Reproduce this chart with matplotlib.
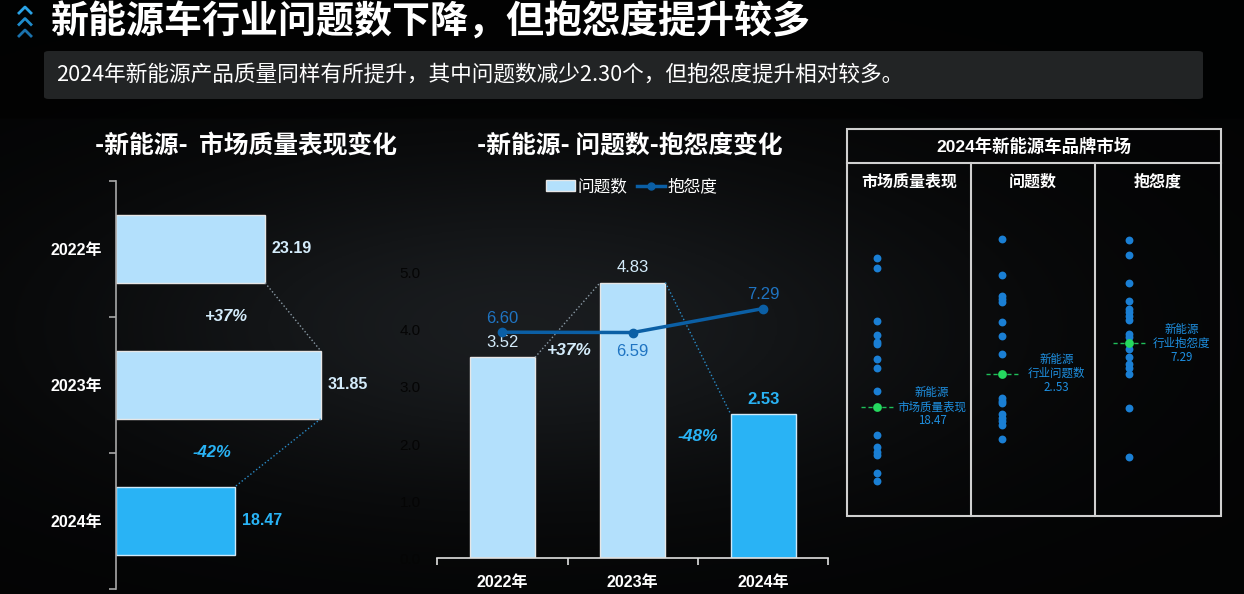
import numpy as np
import matplotlib
matplotlib.use("Agg")
import matplotlib.pyplot as plt
from matplotlib.lines import Line2D
from matplotlib.patches import Patch, Rectangle, FancyBboxPatch

plt.rcParams['font.family'] = ['Liberation Sans', 'Noto Sans CJK SC', 'DejaVu Sans']
CJK = ['Noto Sans CJK SC', 'DejaVu Sans']

# ---- data ----
years = ['2022年', '2023年', '2024年']
quality = [23.19, 31.85, 18.47]          # 市场质量表现
problems = [3.52, 4.83, 2.53]            # 问题数
complaint = [6.60, 6.59, 7.29]           # 抱怨度
quality_pct = ['+37%', '-42%']
problem_pct = ['+37%', '-48%']

# 2024 brand market
brand_quality = [33.31, 32.37, 27.04, 25.64, 24.97, 24.71, 23.21, 22.37, 20.01,
                 15.64, 14.44, 13.97, 13.64, 11.87, 11.08]
brand_problems = [5.23, 4.51, 4.08, 4.02, 3.96, 3.56, 3.29, 2.92,
                  2.04, 1.99, 1.94, 1.72, 1.64, 1.58, 1.51, 1.23]
brand_complaint = [12.44, 11.71, 10.29, 9.42, 9.01, 8.84, 8.67, 8.46, 7.74, 7.61,
                   7.00, 6.62, 6.24, 6.07, 5.74, 4.07, 1.62]
industry = [18.47, 2.53, 7.29]
industry_lbl = ['新能源\n市场质量表现\n18.47', '新能源\n行业问题数\n2..53', '新能源\n行业抱怨度\n7.29']
col_titles = ['市场质量表现', '问题数', '抱怨度']

W, H = 1244, 594
LIGHT = '#b3e0fc'
BRIGHT = '#29b3f5'
WHITE_BLUE = '#d4ecfb'

def fx(px):
    return px / W

def fy(py):
    return 1 - py / H

def axbox(x0, y0, x1, y1):
    return [fx(x0), fy(y1), fx(x1) - fx(x0), fy(y0) - fy(y1)]

fig = plt.figure(figsize=(W / 100, H / 100), dpi=100, facecolor='#030405')

# dark background glow
bg = fig.add_axes([0, 0, 1, 1], zorder=-10)
gx, gy = np.meshgrid(np.linspace(0, 1, 400), np.linspace(0, 1, 200))
glow = 0.015 + 0.09 * np.exp(-((gx - 0.42) ** 2 / 0.12 + (gy - 0.55) ** 2 / 0.08))
glow[gy < 0.2] *= 0.5
img = np.dstack([glow * 0.95, glow * 1.05, glow * 1.15])
bg.imshow(np.clip(img, 0, 1), aspect='auto', extent=[0, 1, 0, 1], origin='upper')
bg.axis('off')

# header
for i, c in enumerate(['#2aa3e6', '#1f8ccc', '#1a72ad']):
    yc = 10 + i * 11.5
    fig.add_artist(Line2D([fx(19), fx(25), fx(31)], [fy(yc + 3), fy(yc - 3), fy(yc + 3)],
                          color=c, lw=2, transform=fig.transFigure))
fig.text(fx(50), fy(22), '新能源车行业问题数下降，但抱怨度提升较多', family=CJK,
         fontsize=27.4, weight='heavy', color='white', va='center', ha='left')
fig.add_artist(FancyBboxPatch((fx(44), fy(99)), fx(1203) - fx(44), fy(51) - fy(99),
                              boxstyle='round,pad=0,rounding_size=0.004',
                              transform=fig.transFigure, fc='#262829', ec='none', alpha=0.9))
fig.text(fx(56), fy(75), '2024年新能源产品质量同样有所提升，其中问题数减少2.30个，但抱怨度提升相对较多。',
         family=CJK, fontsize=15.6, color='white', va='center', ha='left')

# ---- left: horizontal bars ----
fig.text(fx(246), fy(146), '-新能源-  市场质量表现变化', family=CJK, fontsize=17.8,
         weight='heavy', color='white', ha='center', va='center')
ax1 = fig.add_axes(axbox(116, 180.7, 420, 589))
ax1.set_facecolor('none')
y = np.arange(len(years))
cols = [LIGHT, LIGHT, BRIGHT]
ax1.barh(y, quality, height=0.5, color=cols, edgecolor=['#e6e6e6', '#e6e6e6', '#cfe9f8'], lw=1)
ax1.set_xlim(0, 47.3)
ax1.set_ylim(2.5, -0.5)
for s in ['top', 'right', 'bottom']:
    ax1.spines[s].set_visible(False)
ax1.spines['left'].set_color('#a8a8a8')
ax1.spines['left'].set_linewidth(1.2)
ax1.set_xticks([])
ax1.set_yticks(y)
ax1.set_yticklabels(years, color='white', fontsize=11.5, weight='bold')
ax1.tick_params(axis='y', which='major', length=0, pad=10)
ax1.set_yticks([-0.5, 0.5, 1.5, 2.5], minor=True)
ax1.tick_params(axis='y', which='minor', length=5, color='#a8a8a8', width=1.2)
for i, v in enumerate(quality):
    c = BRIGHT if i == 2 else WHITE_BLUE
    ax1.annotate(f'{v:.2f}', (v, i), xytext=(5, 0), textcoords='offset points',
                 va='center', ha='left', color=c, fontsize=11.5, weight='bold')
ax1.plot([quality[0], quality[1]], [0.25, 0.75], ls=':', color='#8a9aa5', lw=1)
ax1.plot([quality[1], quality[2]], [1.25, 1.75], ls=':', color='#2a8cc8', lw=1)
ax1.text(17.2, 0.5, quality_pct[0], color=WHITE_BLUE, fontsize=12, weight='bold',
         style='italic', ha='center', va='center')
ax1.text(14.9, 1.5, quality_pct[1], color=BRIGHT, fontsize=12, weight='bold',
         style='italic', ha='center', va='center')

# ---- middle: bars + line ----
fig.text(fx(630), fy(146), '-新能源- 问题数-抱怨度变化', family=CJK, fontsize=17.8,
         weight='heavy', color='white', ha='center', va='center')
ax2 = fig.add_axes(axbox(437.3, 215.7, 828.3, 558.3))
ax2.set_facecolor('none')
x = np.arange(len(years))
ax2.bar(x, problems, width=0.5, color=cols, edgecolor=['#e6e6e6', '#e6e6e6', '#cfe9f8'], lw=1)
ax2.set_xlim(-0.5, 2.5)
ax2.set_ylim(0, 6)
for s in ['top', 'right', 'left']:
    ax2.spines[s].set_visible(False)
ax2.spines['bottom'].set_color('#e0e0e0')
ax2.spines['bottom'].set_linewidth(1.2)
ax2.set_xticks(x)
ax2.set_xticklabels(years, color='white', fontsize=11.5, weight='bold')
ax2.tick_params(axis='x', which='major', length=0, pad=12)
ax2.set_xticks([-0.5, 0.5, 1.5, 2.5], minor=True)
ax2.tick_params(axis='x', which='minor', length=5, color='#e0e0e0', width=1.2)
ax2.set_yticks(np.arange(0, 6))
ax2.set_yticklabels([f'{t:.1f}' for t in range(6)], color='#050505', fontsize=11)
ax2.tick_params(axis='y', length=0, pad=12)
for i, v in enumerate(problems):
    c = BRIGHT if i == 2 else WHITE_BLUE
    ax2.annotate(f'{v:.2f}', (i, v), xytext=(0, 10.5), textcoords='offset points',
                 va='center', ha='center', color=c, fontsize=12, weight='bold' if i == 2 else 'normal')
ax2.plot([0.25, 0.75], [problems[0], problems[1]], ls=':', color='#8a9aa5', lw=1)
ax2.plot([1.25, 1.75], [problems[1], problems[2]], ls=':', color='#2a8cc8', lw=1)
ax2.text(0.51, 3.64, problem_pct[0], color=WHITE_BLUE, fontsize=12.5, weight='bold',
         style='italic', ha='center', va='center')
ax2.text(1.5, 2.13, problem_pct[1], color=BRIGHT, fontsize=12.5, weight='bold',
         style='italic', ha='center', va='center')

ax3 = ax2.twinx()
ax3.set_ylim(0, 10)
ax3.axis('off')
ax3.plot(x, complaint, color='#0b5fa5', lw=2.5, marker='o', ms=6)
offs = [10, -14, 10]
for i, v in enumerate(complaint):
    ax3.annotate(f'{v:.2f}', (i, v), xytext=(0, offs[i]), textcoords='offset points',
                 va='center', ha='center', color='#1f74c2', fontsize=12)

handles = [Patch(fc=LIGHT, ec='#e6e6e6', label='问题数'),
           Line2D([], [], color='#0b5fa5', lw=2.5, marker='o', ms=5, label='抱怨度')]
leg = fig.legend(handles=handles, loc='center', bbox_to_anchor=(fx(632), fy(187)), ncol=2,
                 frameon=False, prop={'family': CJK, 'size': 12}, handlelength=1.7,
                 handleheight=0.6, handletextpad=0.15, columnspacing=0.6)
for t in leg.get_texts():
    t.set_color('white')

# ---- right: 2024 brand market ----
lc = '#d0d0d0'
fig.add_artist(Rectangle((fx(847), fy(516)), fx(1221) - fx(847), fy(129) - fy(516),
                         transform=fig.transFigure, fill=False, ec=lc, lw=1.5))
fig.add_artist(Line2D([fx(847), fx(1221)], [fy(162.7), fy(162.7)], color=lc, lw=1.5,
                      transform=fig.transFigure))
for xv in [971, 1095]:
    fig.add_artist(Line2D([fx(xv), fx(xv)], [fy(162.7), fy(516)], color=lc, lw=1.5,
                          transform=fig.transFigure))
fig.text(fx(1034), fy(146), '2024年新能源车品牌市场', family=['Liberation Sans'] + CJK,
         fontsize=12.5, weight='bold', color='white', ha='center', va='center')

brands = [brand_quality, brand_problems, brand_complaint]
col_edges = [(847, 971), (971, 1095), (1095, 1221)]
dot_off = [30, 30.7, 33.7]
ylims = [(7.54, 42.84), (-0.32, 6.74), (-1.35, 16.31)]
for k in range(3):
    x0, x1 = col_edges[k]
    ax = fig.add_axes(axbox(x0, 163, x1, 516))
    ax.set_facecolor('none')
    ax.axis('off')
    ax.set_xlim(-dot_off[k], x1 - x0 - dot_off[k])
    ax.set_ylim(*ylims[k])
    ax.scatter(np.zeros(len(brands[k])), brands[k], s=32, color='#1a7fd4', lw=0, zorder=3)
    ax.hlines(industry[k], -16, 17, colors='#1fbf5a', linestyles=(0, (3, 2)), lw=1, zorder=2)
    ax.scatter([0], [industry[k]], s=40, color='#25d95f', lw=0, zorder=4)
    ax.text(55 if k < 2 else 53, industry[k], industry_lbl[k], family=CJK, fontsize=8.3,
            color='#1e8fe0', ha='center', va='center', linespacing=1.1, style='italic')
    fig.text(fx((x0 + x1) / 2), fy(182), col_titles[k], family=CJK, fontsize=11.5,
             weight='bold', color='white', ha='center', va='center')

fig.savefig('out.png', dpi=100, facecolor=fig.get_facecolor())
